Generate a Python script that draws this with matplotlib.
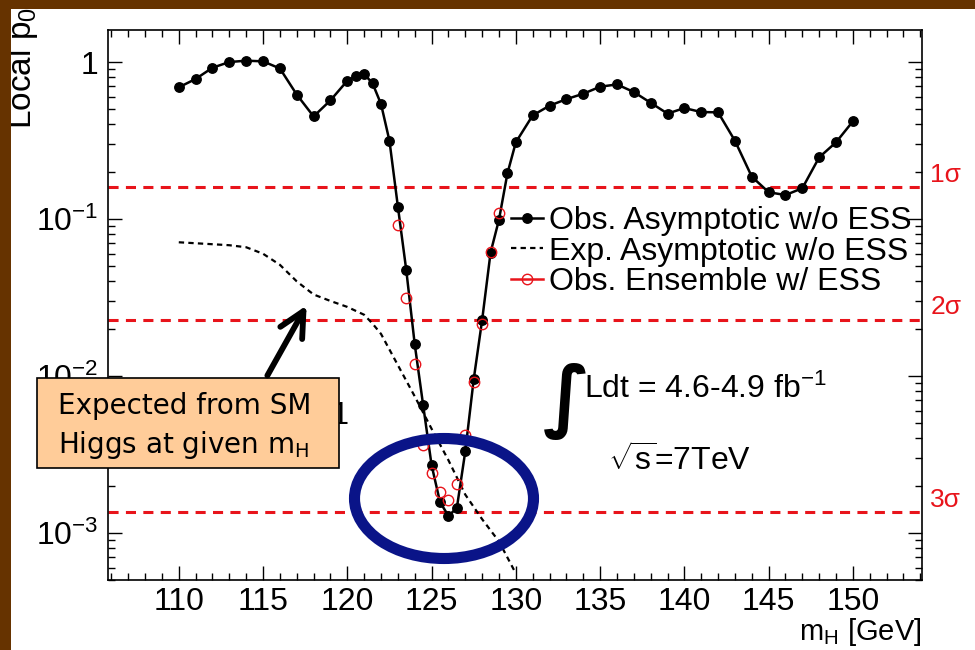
import numpy as np
import matplotlib
matplotlib.use("Agg")
import matplotlib.pyplot as plt
from matplotlib.lines import Line2D
from matplotlib.patches import Rectangle, Ellipse, FancyArrowPatch
from matplotlib.ticker import MultipleLocator, LogLocator, FuncFormatter, NullFormatter

plt.rcParams["font.family"] = ["Liberation Sans", "DejaVu Sans"]
plt.rcParams["mathtext.fontset"] = "custom"
plt.rcParams["mathtext.rm"] = "Liberation Sans"
plt.rcParams["mathtext.it"] = "Liberation Sans:italic"
plt.rcParams["mathtext.bf"] = "Liberation Sans:bold"

# observed local p0, asymptotic, no ESS
mass_obs = [110, 111, 112, 113, 114, 115, 116, 117, 118, 119, 120, 120.5, 121, 121.5,
            122, 122.5, 123, 123.5, 124, 124.5, 125, 125.5, 126, 126.5, 127, 127.5,
            128, 128.5, 129, 129.5, 130, 131, 132, 133, 134, 135, 136, 137, 138, 139,
            140, 141, 142, 143, 144, 145, 146, 147, 148, 149, 150]
p0_obs = [0.69, 0.78, 0.92, 1.0, 1.02, 1.01, 0.91, 0.62, 0.45, 0.57, 0.76, 0.81, 0.84, 0.73,
          0.54, 0.315, 0.12, 0.047, 0.0159, 0.0065, 0.0027, 0.00157, 0.00128, 0.00144, 0.0033, 0.0095,
          0.0227, 0.061, 0.099, 0.195, 0.308, 0.457, 0.527, 0.58, 0.628, 0.696, 0.72, 0.644, 0.55, 0.469,
          0.509, 0.48, 0.478, 0.315, 0.186, 0.148, 0.142, 0.157, 0.247, 0.308, 0.419]

# observed local p0 from ensemble, with ESS
mass_ens = [123, 123.5, 124, 124.5, 125, 125.5, 126, 126.5, 127, 127.5, 128, 128.5, 129]
p0_ens = [0.092, 0.0315, 0.0119, 0.0036, 0.0024, 0.00181, 0.00162, 0.00206, 0.0042, 0.0092,
          0.0214, 0.062, 0.109]

# expected local p0
mass_exp = [110, 111, 112, 113, 114, 115, 116, 117, 118, 119, 120, 121, 121.5, 122,
            123, 124, 125, 126, 127, 128, 129, 130]
p0_exp = [0.071, 0.070, 0.069, 0.068, 0.066, 0.060, 0.051, 0.040, 0.033, 0.030, 0.0275, 0.0245,
          0.0215, 0.0185, 0.0117, 0.0074, 0.0046, 0.0029, 0.00175, 0.00122, 0.00088, 0.00055]

sigma_labels = ["1σ", "2σ", "3σ"]
sigma_p0 = [0.1587, 0.02275, 0.00135]

W, H = 975, 650
RED = "#e8141b"


def fx(px):
    return px / W


def fy(py):
    return 1 - py / H


fig = plt.figure(figsize=(9.75, 6.5), dpi=100)
fig.patch.set_facecolor("white")
ax = fig.add_axes([fx(108), fy(580), (922 - 108) / W, (580 - 30) / H])

for p in sigma_p0:
    ax.axhline(p, color=RED, lw=2.2, ls=(0, (3.3, 2.4)), zorder=1)

ax.plot(mass_exp, p0_exp, color="black", lw=1.6, ls=(0, (2.4, 1.9)), zorder=2)
ax.plot(mass_obs, p0_obs, "-o", color="black", lw=1.8, ms=6.8, zorder=3)
ax.plot(mass_ens, p0_ens, "o", mfc="none", mec=RED, ms=7.5, mew=1.0, zorder=4)

ax.set_yscale("log")
ax.set_xlim(105.8, 154.1)
ax.set_ylim(5e-4, 1.6)
ax.xaxis.set_major_locator(MultipleLocator(5))
ax.xaxis.set_minor_locator(MultipleLocator(1))
ax.yaxis.set_major_locator(LogLocator(base=10))
ax.yaxis.set_minor_locator(LogLocator(base=10, subs=np.arange(2, 10)))
ax.yaxis.set_minor_formatter(NullFormatter())
ax.yaxis.set_major_formatter(FuncFormatter(
    lambda v, pos: "1" if abs(v - 1) < 1e-9 else r"$10^{%d}$" % round(np.log10(v))))
ax.tick_params(which="both", direction="in", top=True, right=True, width=1.0)
ax.tick_params(which="major", length=10, labelsize=23, pad=7)
ax.tick_params(axis="x", which="major", pad=5)
ax.tick_params(which="minor", length=5)
for s in ax.spines.values():
    s.set_linewidth(1.2)

for lbl, p in zip(sigma_labels, sigma_p0):
    ax.annotate(lbl, xy=(1, p), xycoords=("axes fraction", "data"), xytext=(6, 9),
                textcoords="offset points", color=RED, fontsize=19,
                ha="left", va="center", annotation_clip=False)

handles = [
    Line2D([], [], color="black", marker="o", ms=6.8, lw=1.8),
    Line2D([], [], color="black", lw=1.6, ls=(0, (2.4, 1.9))),
    Line2D([], [], color=RED, marker="o", mfc="none", mec=RED, ms=7.5, lw=1.8),
]
labels = ["Obs. Asymptotic w/o ESS", "Exp. Asymptotic w/o ESS", "Obs. Ensemble w/ ESS"]
ax.legend(handles, labels, loc="upper left", bbox_to_anchor=(fx(511), fy(206)),
          bbox_transform=fig.transFigure, frameon=False, fontsize=23,
          handlelength=1.0, handletextpad=0.2, labelspacing=0.02,
          borderpad=0, borderaxespad=0)

# a glyph of some text that the callout box hides
fig.text(fx(349), fy(424), "1", fontsize=22, ha="right", va="baseline", zorder=2)

fig.text(fx(567), fy(401), "∫", family="DejaVu Sans", fontweight="bold", fontsize=56,
         ha="center", va="center")
fig.text(fx(584), fy(398), r"Ldt = 4.6-4.9 fb$^{-1}$", fontsize=23, ha="left", va="baseline")
fig.text(fx(608), fy(471), r"$\sqrt{\mathrm{s}}$=7TeV", fontsize=23, ha="left", va="baseline")

fig.text(fx(922), fy(632), r"$\mathregular{m_H}$ [GeV]", fontsize=21, ha="right", va="center")
fig.text(fx(22), fy(7), r"Local $\mathregular{p_0}$", fontsize=24, rotation=90,
         ha="center", va="top")

# callout and highlight
fig.add_artist(Ellipse((fx(444), fy(498.5)), 179 / W, 120 / H, transform=fig.transFigure,
                       fill=False, ec="#0a1488", lw=8, zorder=4))
fig.add_artist(Rectangle((fx(37), fy(468)), 302 / W, 90 / H, transform=fig.transFigure,
                         fc="#ffcc99", ec="black", lw=1.2, zorder=5))
fig.text(fx(58), fy(406), "Expected from SM", family="DejaVu Sans", fontsize=20,
         ha="left", va="center", zorder=6)
fig.text(fx(58), fy(445), r"Higgs at given $\mathregular{m_H}$", family="DejaVu Sans",
         fontsize=20, ha="left", va="center", zorder=6)
fig.add_artist(FancyArrowPatch((fx(266), fy(378)), (fx(308), fy(303)),
                               transform=fig.transFigure, color="black", lw=4.2,
                               arrowstyle="->,head_length=0.9,head_width=0.45",
                               mutation_scale=20, zorder=6))

# brown slide border
fig.add_artist(Rectangle((0, 0), fx(11), 1, transform=fig.transFigure,
                         fc="#663300", ec="none", zorder=10))
fig.add_artist(Rectangle((0, fy(9)), 1, 9 / H, transform=fig.transFigure,
                         fc="#663300", ec="none", zorder=10))

fig.savefig("out.png", dpi=100)
